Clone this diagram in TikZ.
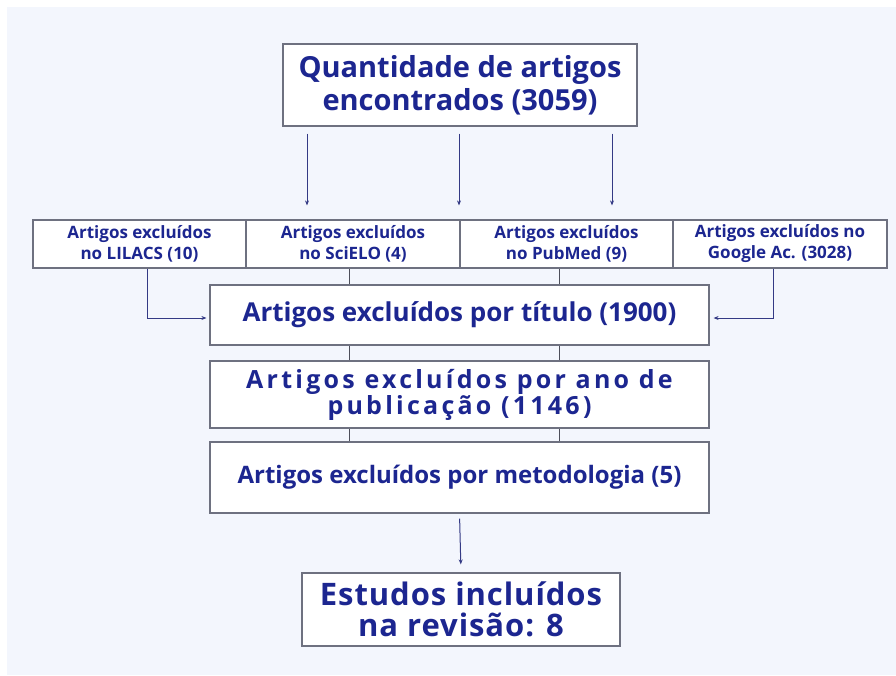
\documentclass[tikz,border=0pt]{standalone}
\usepackage{fontspec}
\setmainfont{Open Sans}
\newfontfamily\spacedfont[LetterSpace=13]{Open Sans}
\newfontfamily\widefont[LetterSpace=3]{Open Sans}
\definecolor{panelbg}{HTML}{F3F6FD}
\definecolor{boxgray}{HTML}{6E7180}
\definecolor{txtblue}{HTML}{1C2690}
\definecolor{arrblue}{HTML}{343A85}
\usetikzlibrary{arrows.meta,positioning,calc}

\begin{document}
\begin{tikzpicture}[x=1pt,y=-1pt,
  caixa/.style={draw=boxgray, line width=1.2pt, fill=white, text=txtblue, align=center, inner sep=0pt},
  seta/.style={draw=arrblue, line width=1pt, -{Stealth[length=5pt,width=4pt]}},
  liga/.style={draw=boxgray!70!black, line width=1.3pt}]
\useasboundingbox (0,0) rectangle (896,675);
\fill[panelbg] (7,7) rectangle (896,675);

% caixa inicial
\node[caixa, minimum width=354pt, minimum height=82pt,
  font=\fontsize{29}{33}\selectfont\bfseries] (total) at (460,85)
  {Quantidade de artigos\\encontrados (3059)};

% bases de dados
\node[caixa, minimum width=213pt, minimum height=48pt, font=\fontsize{17}{21}\selectfont\bfseries]
  (lilacs) at (139.5,244) {Artigos excluídos\\no LILACS (10)};
\node[caixa, minimum width=214pt, minimum height=48pt, font=\fontsize{17}{21}\selectfont\bfseries]
  (scielo) at (353,244) {Artigos excluídos\\no SciELO (4)};
\node[caixa, minimum width=213pt, minimum height=48pt, font=\fontsize{17}{21}\selectfont\bfseries]
  (pubmed) at (566.5,244) {Artigos excluídos\\no PubMed (9)};
\node[caixa, minimum width=214pt, minimum height=48pt, font=\fontsize{17}{21}\selectfont\bfseries]
  (google) at (780,244) {Artigos excluídos no\\Google Ac. (3028)};

% filtros
\node[caixa, minimum width=499pt, minimum height=60pt, font=\fontsize{26}{30}\selectfont\bfseries]
  (titulo) at (459.5,315) {Artigos excluídos por título (1900)};
\node[caixa, minimum width=499pt, minimum height=67pt, font=\fontsize{25}{26}\spacedfont\bfseries]
  (ano) at (459.5,394.5) {Artigos excluídos por ano de\\publicação (1146)};
\node[caixa, minimum width=499pt, minimum height=71pt, font=\fontsize{24}{28}\selectfont\bfseries]
  (metodo) at (459.5,477.5) {Artigos excluídos por metodologia (5)};

\node[caixa, minimum width=318pt, minimum height=73pt, font=\fontsize{31}{31}\widefont\bfseries]
  (estudos) at (461,609.5) {Estudos incluídos\\na revisão: 8};

% setas
\foreach \dx in {-153,-1,152}
  \draw[seta, shorten <=7pt, shorten >=14pt] ([xshift=\dx pt]total.south) -- ([xshift=\dx pt]total.south |- scielo.north);

\foreach \dx in {-110,100} {
  \draw[liga] ([xshift=\dx pt]titulo.north) -- ([xshift=\dx pt]titulo.north |- scielo.south);
  \draw[liga] ([xshift=\dx pt]ano.north) -- ([xshift=\dx pt]titulo.south);
  \draw[liga] ([xshift=\dx pt]metodo.north) -- ([xshift=\dx pt]ano.south);
}

\draw[seta, shorten >=3pt] ([xshift=8pt]lilacs.south) |- ([yshift=-3pt]titulo.west);
\draw[seta, shorten >=4pt] ([xshift=-7pt]google.south) |- ([yshift=-3pt]titulo.east);
\draw[seta, shorten <=5pt, shorten >=8pt] (metodo.south) -- (estudos.north);
\end{tikzpicture}
\end{document}
